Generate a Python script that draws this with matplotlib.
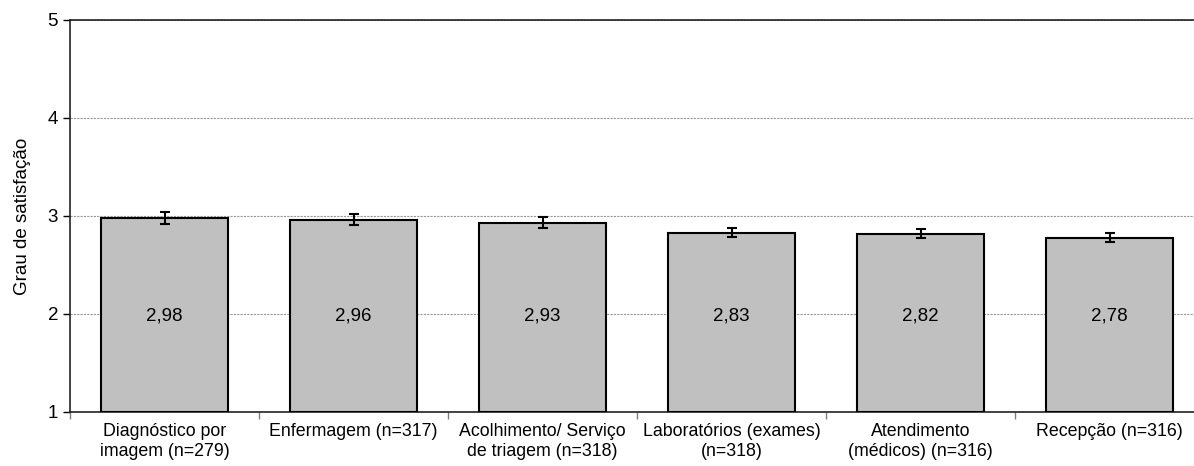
import numpy as np
from matplotlib import pyplot as plt

categories = ['Diagnóstico por\nimagem (n=279)', 'Enfermagem (n=317)',
              'Acolhimento/ Serviço\nde triagem (n=318)', 'Laboratórios (exames)\n(n=318)',
              'Atendimento\n(médicos) (n=316)', 'Recepção (n=316)']
means = [2.98, 2.96, 2.93, 2.83, 2.82, 2.78]
errors = [0.06, 0.056, 0.056, 0.046, 0.046, 0.05]
labels = ['2,98', '2,96', '2,93', '2,83', '2,82', '2,78']

plt.rcParams['font.family'] = ['Liberation Sans', 'DejaVu Sans']

fig = plt.figure(figsize=(11.94, 4.66), dpi=100)
ax = fig.add_axes([70 / 1194, 54 / 466, 1134 / 1194, 392 / 466])

x = np.arange(len(means))
ax.bar(x, np.array(means) - 1, bottom=1, width=0.667, color='#c0c0c0',
       edgecolor='black', linewidth=1.5, zorder=3)
ax.errorbar(x, means, yerr=errors, fmt='none', ecolor='black',
            elinewidth=1.5, capsize=3.5, capthick=1.5, zorder=4)
for xi, lab in zip(x, labels):
    ax.text(xi, 1.98, lab, ha='center', va='center', fontsize=13.5, zorder=5)

ax.set_xlim(-0.5, len(means) - 0.5)
ax.set_ylim(1, 5)
ax.set_yticks([1, 2, 3, 4, 5])
ax.yaxis.grid(True, linestyle=(0, (2, 1)), color='#999999', linewidth=0.8, zorder=0)
ax.set_xticks(x)
ax.set_xticklabels(categories, fontsize=12.8, linespacing=1.25)
ax.tick_params(axis='x', length=0, pad=8)
ax.set_xticks(np.arange(-0.5, len(means), 1), minor=True)
ax.tick_params(axis='x', which='minor', length=5, color='#808080', width=1)
ax.tick_params(axis='y', labelsize=13.5, length=5, width=1)
ax.set_ylabel('Grau de satisfação', fontsize=13.5, labelpad=12)

for s in ['top', 'left', 'bottom']:
    ax.spines[s].set_color('#222222')
    ax.spines[s].set_linewidth(1.2)
ax.spines['right'].set_visible(False)

fig.savefig('out.png', dpi=100)
